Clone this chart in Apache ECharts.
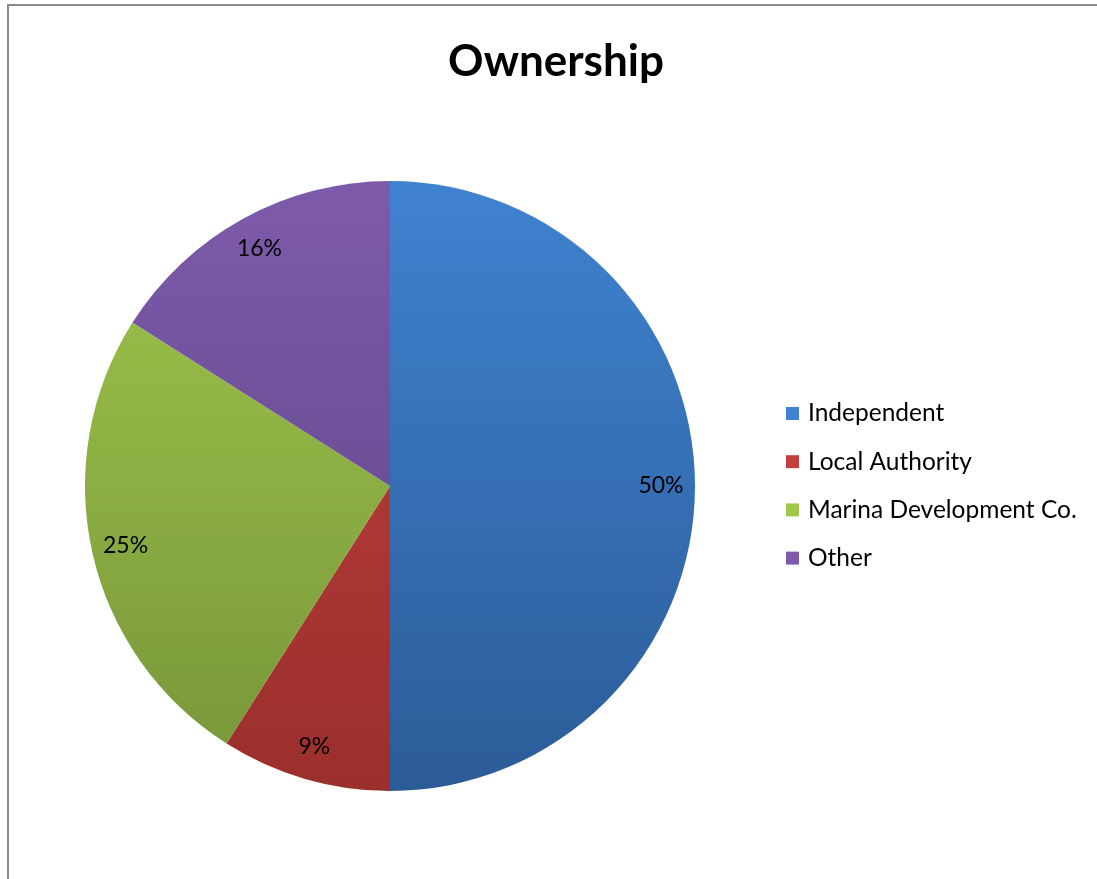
<!DOCTYPE html>
<html><head><meta charset="utf-8">
<script src="https://cdn.jsdelivr.net/npm/echarts@6/dist/echarts.min.js"></script>
<style>html,body{margin:0;padding:0;background:#fff}#c{width:1097px;height:879px}</style>
</head><body><div id="c"></div>
<script>
const categories = ['Independent', 'Local Authority', 'Marina Development Co.', 'Other'];
const values = [50, 9, 25, 16];
const topColors = ['#3f82d0', '#c4403d', '#a0c64b', '#7d5bab'];
const bottomColors = ['#2c5c98', '#9a2f2c', '#76953a', '#5c4282'];

const chart = echarts.init(document.getElementById('c'));
const cx = 390, cy = 486, R = 305;
function grad(i){
  return {type:'linear', x:0, y:cy-R, x2:0, y2:cy+R, global:true,
    colorStops:[{offset:0,color:topColors[i]},{offset:1,color:bottomColors[i]}]};
}
const data = categories.map((n,i)=>({name:n, value:values[i], itemStyle:{color:grad(i)}}));
const labelData = categories.map((n,i)=>({name:n, value:values[i]}));
chart.setOption({
  animation:false,
  title:{text:'Ownership', left:551, top:57, textAlign:'center', textVerticalAlign:'middle',
    textStyle:{fontFamily:'Lato', fontWeight:'bold', fontSize:44, color:'#000'}},
  legend:{orient:'vertical', left:781, top:396, itemWidth:13, itemHeight:13, itemGap:23.2,
    icon:'rect', data:categories.map((n,i)=>({name:n, itemStyle:{color:grad(i)}})),
    textStyle:{fontFamily:'Lato', fontSize:24.5, lineHeight:24, color:'#000', padding:[0,0,0,4]}},
  graphic:[
    {type:'line', shape:{x1:8, y1:5, x2:8, y2:879}, style:{stroke:'#8a8a8a', lineWidth:2}},
    {type:'line', shape:{x1:7, y1:5, x2:1097, y2:5}, style:{stroke:'#8a8a8a', lineWidth:2}}
  ],
  series:[
    {type:'pie', center:[cx,cy], radius:[0,R], startAngle:90, clockwise:true,
      label:{show:false}, labelLine:{show:false}, data:data, silent:true,
      itemStyle:{borderWidth:0}},
    {type:'pie', center:[cx,cy], radius:[R-74,R], startAngle:90, clockwise:true,
      silent:true, itemStyle:{color:'rgba(0,0,0,0)'},
      label:{show:true, position:'inside', formatter:'{d}%', fontFamily:'Lato', fontSize:23, color:'#000'},
      labelLine:{show:false}, data:labelData, legendHoverLink:false}
  ]
});
</script></body></html>
